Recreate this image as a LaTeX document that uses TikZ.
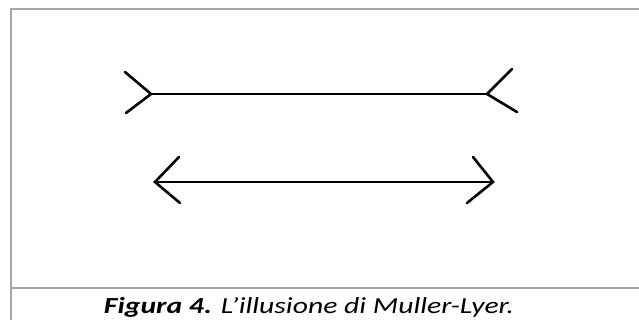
\documentclass[tikz,border=0pt]{standalone}
\usepackage{fontspec}
\setmainfont{Carlito}
\begin{document}
\begin{tikzpicture}[x=1pt,y=-1pt,
  frameline/.style={draw=black!35,line width=2pt},
  figline/.style={draw=black,line width=2.6pt,line cap=round,line join=miter},
  captiontext/.style={font=\fontsize{23}{27}\selectfont\itshape,anchor=base,inner sep=0pt,xscale=1.29,transform shape}]
  \useasboundingbox (0,0) rectangle (639,320);
  % frame of the figure and caption row
  \draw[frameline] (10.5,320) -- (10.5,9.5) -- (639,9.5);
  \draw[frameline] (10.5,287.5) -- (639,287.5);
  % upper segment with outward fins
  \coordinate (aL) at (151,94);
  \coordinate (aR) at (487,94);
  \draw[figline] (aL) -- (aR);
  \draw[figline] (125,72) -- (aL) -- (126,113);
  \draw[figline] (512,69) -- (aR) -- (517,112);
  % lower segment with arrowheads
  \coordinate (bL) at (155,182);
  \coordinate (bR) at (493,182);
  \draw[figline] (bL) -- (bR);
  \draw[figline] (179,157) -- (bL) -- (180,203);
  \draw[figline] (473,157) -- (bR) -- (467,203);
  % caption
  \node[captiontext] (cap) at (309,313.5) {\textbf{Figura 4.} L’illusione di Muller-Lyer.};
\end{tikzpicture}
\end{document}
